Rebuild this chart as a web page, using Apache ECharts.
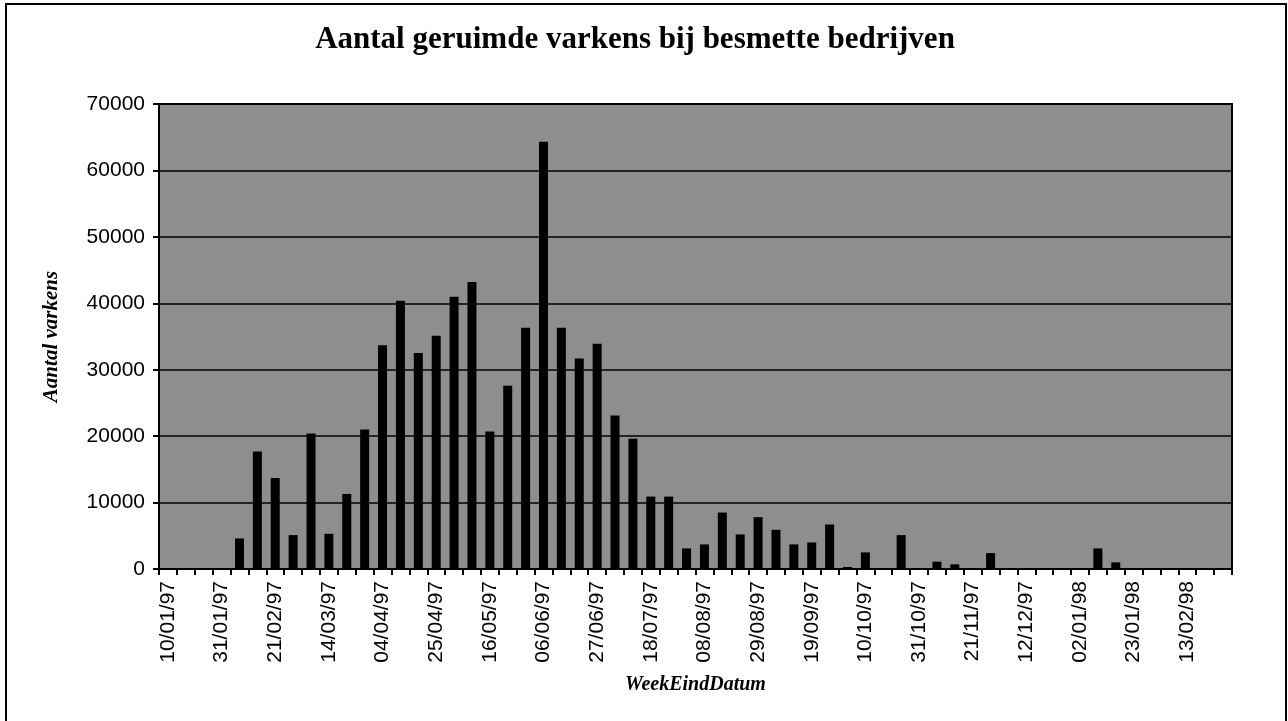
<!DOCTYPE html>
<html lang="nl">
<head>
    <meta charset="UTF-8">
    <title>Aantal geruimde varkens</title>
    <style type="text/css">
        html, body{
            margin: 0;
            padding: 0;
            background-color: #ffffff;
        }
        #chart{
            width: 1288px;
            height: 721px;
        }
    </style>
</head>
<body>
<div id="chart"></div>
<script src="https://cdn.jsdelivr.net/npm/echarts@6/dist/echarts.min.js"></script>
<script type="text/javascript">
    // week-end dates (weekly categories)
    var weeks = ['10/01/97','17/01/97','24/01/97','31/01/97','07/02/97','14/02/97','21/02/97','28/02/97',
        '07/03/97','14/03/97','21/03/97','28/03/97','04/04/97','11/04/97','18/04/97','25/04/97',
        '02/05/97','09/05/97','16/05/97','23/05/97','30/05/97','06/06/97','13/06/97','20/06/97',
        '27/06/97','04/07/97','11/07/97','18/07/97','25/07/97','01/08/97','08/08/97','15/08/97',
        '22/08/97','29/08/97','05/09/97','12/09/97','19/09/97','26/09/97','03/10/97','10/10/97',
        '17/10/97','24/10/97','31/10/97','07/11/97','14/11/97','21/11/97','28/11/97','05/12/97',
        '12/12/97','19/12/97','26/12/97','02/01/98','09/01/98','16/01/98','23/01/98','30/01/98',
        '06/02/98','13/02/98','20/02/98','27/02/98'];

    // pigs culled per week
    var varkens = [0,0,0,0,4600,17700,13700,5100,
        20400,5300,11300,21000,33700,40400,32500,35100,
        41000,43200,20700,27600,36300,64300,36300,31700,
        33900,23100,19600,10900,10900,3100,3700,8500,
        5200,7800,5900,3700,4000,6700,300,2500,
        0,5100,0,1100,700,0,2400,0,
        0,0,0,0,3100,1000,0,0,
        0,0,0,0];

    var yTicks = [0, 70000, 10000]; // min, max, step

    var chart = echarts.init(document.getElementById('chart'));
    chart.setOption({
        animation: false,
        title: {
            text: 'Aantal geruimde varkens bij besmette bedrijven',
            left: 630,
            textAlign: 'center',
            top: 19,
            textStyle: {
                fontFamily: 'Liberation Serif',
                fontWeight: 'bold',
                fontSize: 31,
                color: '#000'
            }
        },
        graphic: [{
            type: 'rect',
            shape: {x: 6, y: 4, width: 1280, height: 730},
            style: {fill: 'none', stroke: '#000', lineWidth: 2}
        }],
        grid: {
            left: 159,
            right: 56,
            top: 104,
            bottom: 152,
            show: true,
            backgroundColor: '#8e8e8e',
            borderColor: '#000',
            borderWidth: 2
        },
        xAxis: {
            type: 'category',
            data: weeks,
            name: 'WeekEindDatum',
            nameLocation: 'middle',
            nameGap: 106,
            nameTextStyle: {
                fontFamily: 'Liberation Serif',
                fontStyle: 'italic',
                fontWeight: 'bold',
                fontSize: 20,
                color: '#000'
            },
            axisLine: {lineStyle: {color: '#000', width: 2}},
            axisTick: {show: true, interval: 0, length: 6, lineStyle: {color: '#000', width: 2}},
            axisLabel: {
                interval: 2,
                rotate: 90,
                margin: 12,
                fontFamily: 'Liberation Sans',
                fontSize: 21,
                color: '#000'
            },
            splitLine: {show: false}
        },
        yAxis: {
            type: 'value',
            min: yTicks[0],
            max: yTicks[1],
            interval: yTicks[2],
            name: 'Aantal varkens',
            nameLocation: 'middle',
            nameRotate: 90,
            nameGap: 97,
            nameTextStyle: {
                fontFamily: 'Liberation Serif',
                fontStyle: 'italic',
                fontWeight: 'bold',
                fontSize: 21,
                color: '#000'
            },
            axisLine: {show: true, lineStyle: {color: '#000', width: 2}},
            axisTick: {show: true, length: 6, lineStyle: {color: '#000', width: 2}},
            axisLabel: {
                margin: 14,
                fontFamily: 'Liberation Sans',
                fontSize: 21,
                color: '#000',
                formatter: function (v) { return String(v); }
            },
            splitLine: {show: true, lineStyle: {color: '#000', width: 1.5}}
        },
        series: [{
            name: 'Aantal varkens',
            type: 'bar',
            data: varkens,
            barWidth: 9,
            itemStyle: {color: '#000'}
        }]
    });
</script>
</body>
</html>
